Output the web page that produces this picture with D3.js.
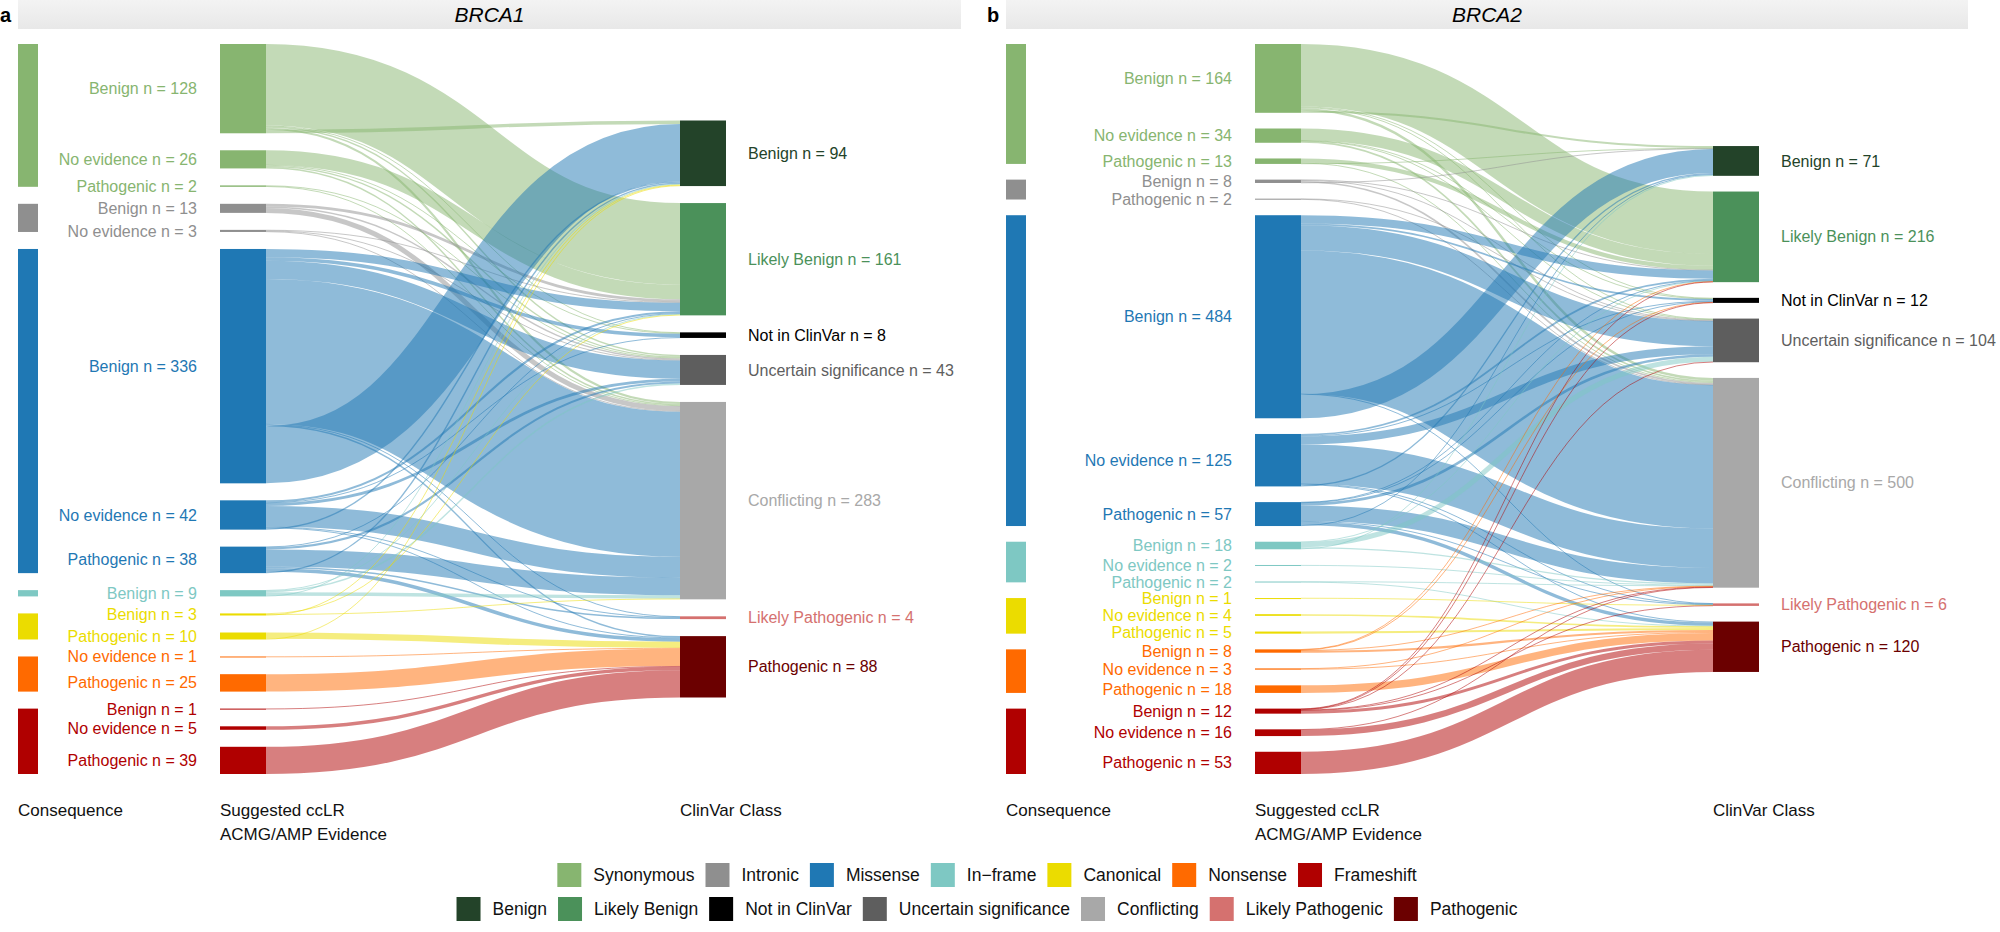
<!DOCTYPE html>
<html>
<head>
<meta charset="utf-8">
<script src="https://cdn.jsdelivr.net/npm/d3@7"></script>
<style>
  body { margin: 0; background: #fff; }
  text { font-family: "Liberation Sans", Arial, sans-serif; }
</style>
</head>
<body>
<div id="chart"></div>
<script>
// Categories
var consequences = ["Synonymous", "Intronic", "Missense", "In-frame", "Canonical", "Nonsense", "Frameshift"];
var clinvarClasses = ["Benign", "Likely Benign", "Not in ClinVar", "Uncertain significance", "Conflicting", "Likely Pathogenic", "Pathogenic"];

// Colours (one per category above)
var consequenceColors = ["#87b570", "#8f8f8f", "#1f78b4", "#7ec8c3", "#ebdc00", "#ff6a00", "#b00000"];
var clinvarColors = ["#234329", "#4b915a", "#000000", "#5e5e5e", "#a8a8a8", "#d5716f", "#6b0000"];

// Flows: [consequence, suggested evidence, counts into each ClinVar class (same order as clinvarClasses)]
var brca1Flows = [
  ["Synonymous", "Benign",      [5, 117, 1, 2, 3, 0, 0]],
  ["Synonymous", "No evidence", [0, 21, 1, 2, 2, 0, 0]],
  ["Synonymous", "Pathogenic",  [0, 0, 0, 1, 1, 0, 0]],
  ["Intronic",   "Benign",      [0, 4, 0, 2, 7, 0, 0]],
  ["Intronic",   "No evidence", [0, 1, 0, 1, 1, 0, 0]],
  ["Missense",   "Benign",      [82, 12, 5, 26, 208, 1, 2]],
  ["Missense",   "No evidence", [2, 3, 1, 4, 30, 1, 1]],
  ["Missense",   "Pathogenic",  [2, 1, 0, 3, 25, 2, 5]],
  ["In-frame",   "Benign",      [1, 1, 0, 2, 5, 0, 0]],
  ["Canonical",  "Benign",      [1, 1, 0, 0, 1, 0, 0]],
  ["Canonical",  "Pathogenic",  [1, 0, 0, 0, 0, 0, 9]],
  ["Nonsense",   "No evidence", [0, 0, 0, 0, 0, 0, 1]],
  ["Nonsense",   "Pathogenic",  [0, 0, 0, 0, 0, 0, 25]],
  ["Frameshift", "Benign",      [0, 0, 0, 0, 0, 0, 1]],
  ["Frameshift", "No evidence", [0, 0, 0, 0, 0, 0, 5]],
  ["Frameshift", "Pathogenic",  [0, 0, 0, 0, 0, 0, 39]]
];

var brca2Flows = [
  ["Synonymous", "Benign",      [5, 149, 2, 2, 6, 0, 0]],
  ["Synonymous", "No evidence", [0, 28, 1, 1, 4, 0, 0]],
  ["Synonymous", "Pathogenic",  [1, 10, 0, 0, 2, 0, 0]],
  ["Intronic",   "Benign",      [1, 1, 0, 2, 4, 0, 0]],
  ["Intronic",   "Pathogenic",  [0, 0, 0, 1, 1, 0, 0]],
  ["Missense",   "Benign",      [57, 20, 4, 60, 342, 1, 0]],
  ["Missense",   "No evidence", [3, 4, 2, 19, 94, 1, 2]],
  ["Missense",   "Pathogenic",  [2, 1, 1, 6, 37, 2, 8]],
  ["In-frame",   "Benign",      [2, 1, 0, 12, 3, 0, 0]],
  ["In-frame",   "No evidence", [0, 0, 0, 0, 2, 0, 0]],
  ["In-frame",   "Pathogenic",  [0, 0, 0, 0, 1, 0, 1]],
  ["Canonical",  "Benign",      [0, 0, 0, 0, 0, 1, 0]],
  ["Canonical",  "No evidence", [0, 0, 0, 0, 0, 0, 4]],
  ["Canonical",  "Pathogenic",  [0, 0, 0, 0, 0, 0, 5]],
  ["Nonsense",   "Benign",      [0, 1, 1, 0, 1, 0, 5]],
  ["Nonsense",   "No evidence", [0, 0, 0, 0, 1, 0, 2]],
  ["Nonsense",   "Pathogenic",  [0, 0, 0, 0, 0, 0, 18]],
  ["Frameshift", "Benign",      [0, 1, 1, 1, 1, 1, 7]],
  ["Frameshift", "No evidence", [0, 0, 0, 0, 1, 0, 15]],
  ["Frameshift", "Pathogenic",  [0, 0, 0, 0, 0, 0, 53]]
];

// order in which the outgoing ribbons leave each evidence node (indices into clinvarClasses)
var sourceOrder = [1, 2, 3, 4, 5, 6, 0];

var columnTitles = ["Consequence", "Suggested ccLR", "ClinVar Class"];

var svgWidth = 2000;
var svgHeight = 932;
var plotTop = 44;
var plotHeight = 730;
var nodeWidth = 46;
var barWidth = 20;

var consColor = d3.scaleOrdinal(consequences, consequenceColors);
var classColor = d3.scaleOrdinal(clinvarClasses, clinvarColors);

var svg = d3.select("#chart")
  .append("svg")
  .attr("width", svgWidth)
  .attr("height", svgHeight);

var grad = svg.append("defs").append("linearGradient")
  .attr("id", "hdr")
  .attr("x1", 0).attr("y1", 0).attr("x2", 0).attr("y2", 1);
grad.append("stop").attr("offset", "0%").attr("stop-color", "#f3f3f3");
grad.append("stop").attr("offset", "100%").attr("stop-color", "#e8e8e8");

var panels = [
  { letter: "a", gene: "BRCA1", flows: brca1Flows, letterX: 0, x0: 18, xMid: 220, xRight: 680, headerEnd: 961, pad: 17 },
  { letter: "b", gene: "BRCA2", flows: brca2Flows, letterX: 987, x0: 1006, xMid: 1255, xRight: 1713, headerEnd: 1968, pad: 15.7 }
];

panels.forEach(drawPanel);

function drawPanel(p) {
  var g = svg.append("g");

  // strip header
  g.append("rect")
    .attr("x", p.x0).attr("y", 0)
    .attr("width", p.headerEnd - p.x0).attr("height", 29)
    .attr("fill", "url(#hdr)");
  g.append("text")
    .attr("x", (p.x0 + p.headerEnd) / 2).attr("y", 22)
    .attr("text-anchor", "middle")
    .style("font-style", "italic")
    .style("font-size", "21px")
    .text(p.gene);
  g.append("text")
    .attr("x", p.letterX).attr("y", 22)
    .style("font-weight", "bold")
    .style("font-size", "20px")
    .text(p.letter);

  // evidence nodes
  var nodes = p.flows.map(function(f) {
    return { cons: f[0], ev: f[1], vals: f[2], n: d3.sum(f[2]) };
  });
  var total = d3.sum(nodes, d => d.n);
  var y = d3.scaleLinear()
    .domain([0, total])
    .range([0, plotHeight - (nodes.length - 1) * p.pad]);

  var cy = plotTop;
  nodes.forEach(function(d) {
    d.y0 = cy;
    d.y1 = cy + y(d.n);
    cy = d.y1 + p.pad;
  });

  // ClinVar nodes, centred on the same span
  var targets = clinvarClasses.map(function(name, i) {
    return { name: name, n: d3.sum(nodes, d => d.vals[i]) };
  });
  var rightHeight = y(total) + (targets.length - 1) * p.pad;
  var ty = plotTop + (plotHeight - rightHeight) / 2;
  targets.forEach(function(t) {
    t.y0 = ty;
    t.y1 = ty + y(t.n);
    t.cursor = t.y0;
    ty = t.y1 + p.pad;
  });

  // links
  var links = [];
  nodes.forEach(function(d) {
    var sy = d.y0;
    sourceOrder.forEach(function(i) {
      var v = d.vals[i];
      if (!v) return;
      var w = y(v);
      var t = targets[i];
      links.push({ cons: d.cons, w: w, sy: sy + w / 2, ty: t.cursor + w / 2 });
      sy += w;
      t.cursor += w;
    });
  });

  var linkGen = d3.linkHorizontal();
  g.append("g").selectAll("path")
    .data(links)
    .enter()
    .append("path")
    .attr("d", d => linkGen({ source: [p.xMid + nodeWidth, d.sy], target: [p.xRight, d.ty] }))
    .attr("fill", "none")
    .attr("stroke", d => consColor(d.cons))
    .attr("stroke-opacity", 0.5)
    .attr("stroke-width", d => Math.max(d.w, 1));

  // consequence bars spanning their evidence nodes
  var groups = d3.groups(nodes, d => d.cons);
  g.append("g").selectAll("rect")
    .data(groups)
    .enter()
    .append("rect")
    .attr("x", p.x0)
    .attr("y", d => d3.min(d[1], n => n.y0))
    .attr("width", barWidth)
    .attr("height", d => Math.max(d3.max(d[1], n => n.y1) - d3.min(d[1], n => n.y0), 1))
    .attr("fill", d => consColor(d[0]));

  g.append("g").selectAll("rect")
    .data(nodes)
    .enter()
    .append("rect")
    .attr("x", p.xMid)
    .attr("y", d => d.y0)
    .attr("width", nodeWidth)
    .attr("height", d => Math.max(d.y1 - d.y0, 1))
    .attr("fill", d => consColor(d.cons));

  g.append("g").selectAll("text")
    .data(nodes)
    .enter()
    .append("text")
    .attr("x", p.xMid - 23)
    .attr("y", d => (d.y0 + d.y1) / 2)
    .attr("dy", "0.35em")
    .attr("text-anchor", "end")
    .attr("fill", d => consColor(d.cons))
    .style("font-size", "16px")
    .text(d => `${d.ev} n = ${d.n}`);

  g.append("g").selectAll("rect")
    .data(targets)
    .enter()
    .append("rect")
    .attr("x", p.xRight)
    .attr("y", d => d.y0)
    .attr("width", nodeWidth)
    .attr("height", d => Math.max(d.y1 - d.y0, 1))
    .attr("fill", d => classColor(d.name));

  g.append("g").selectAll("text")
    .data(targets)
    .enter()
    .append("text")
    .attr("x", p.xRight + nodeWidth + 22)
    .attr("y", d => (d.y0 + d.y1) / 2)
    .attr("dy", "0.35em")
    .attr("fill", d => classColor(d.name))
    .style("font-size", "16px")
    .text(d => `${d.name} n = ${d.n}`);

  // column titles
  var titleX = [p.x0, p.xMid, p.xRight];
  columnTitles.forEach(function(t, i) {
    g.append("text")
      .attr("x", titleX[i]).attr("y", 816)
      .attr("fill", "#111")
      .style("font-size", "17px")
      .text(t);
  });
  g.append("text")
    .attr("x", p.xMid).attr("y", 840)
    .attr("fill", "#111")
    .style("font-size", "17px")
    .text("ACMG/AMP Evidence");
}

// legend
var legendRows = [
  { labels: consequences, color: consColor, y: 863 },
  { labels: clinvarClasses, color: classColor, y: 897 }
];
var legendCenter = 987;
var sw = 24;

legendRows.forEach(function(row) {
  var lg = svg.append("g");
  var items = lg.selectAll("g")
    .data(row.labels)
    .enter()
    .append("g");
  items.append("rect")
    .attr("width", sw).attr("height", sw)
    .attr("fill", d => row.color(d));
  items.append("text")
    .attr("x", sw + 12)
    .attr("y", sw / 2)
    .attr("dy", "0.35em")
    .attr("fill", "#111")
    .style("font-size", "17.5px")
    .text(d => d.replace("-", "\u2212"));
  var x = 0;
  items.each(function() {
    var len = d3.select(this).select("text").node().getComputedTextLength();
    d3.select(this).attr("transform", `translate(${x},${row.y})`);
    x += sw + 12 + len + 11;
  });
  var width = x - 11;
  lg.attr("transform", `translate(${legendCenter - width / 2},0)`);
});
</script>
</body>
</html>
